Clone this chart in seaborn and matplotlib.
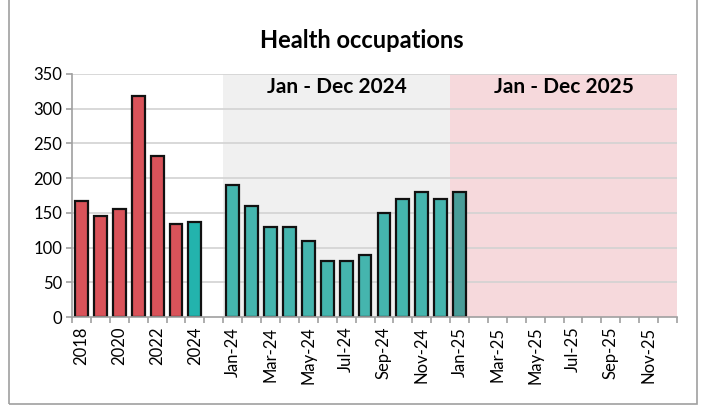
import numpy as np
import pandas as pd
import matplotlib
matplotlib.use('Agg')
import matplotlib.pyplot as plt
import seaborn as sns
from matplotlib.patches import Rectangle

# yearly totals, then monthly 2024 and 2025
years = ['2018', '2019', '2020', '2021', '2022', '2023', '2024']
year_values = [167, 146, 156, 318, 232, 134, 137]

months_24 = ['Jan-24', 'Feb-24', 'Mar-24', 'Apr-24', 'May-24', 'Jun-24',
             'Jul-24', 'Aug-24', 'Sep-24', 'Oct-24', 'Nov-24', 'Dec-24']
month_24_values = [190, 160, 130, 130, 110, 80, 80, 90, 150, 170, 180, 170]

months_25 = ['Jan-25', 'Feb-25', 'Mar-25', 'Apr-25', 'May-25', 'Jun-25',
             'Jul-25', 'Aug-25', 'Sep-25', 'Oct-25', 'Nov-25', 'Dec-25']
month_25_values = [180] + [np.nan] * 11

cats = years + [' '] + months_24 + months_25
vals = year_values + [np.nan] + month_24_values + month_25_values
df = pd.DataFrame({'cat': cats, 'value': vals})

red = '#d9535a'
teal_year = '#23b3ad'
teal = '#45b5ae'
teal_25 = '#4a9c98'
colors = {c: red for c in years[:-1]}
colors['2024'] = teal_year
colors[' '] = teal
for m in months_24:
    colors[m] = teal
for m in months_25:
    colors[m] = teal_25

sns.set_style('white')
plt.rcParams['font.family'] = ['Lato', 'DejaVu Sans']
plt.rcParams['text.color'] = 'black'
plt.rcParams['xtick.labelcolor'] = 'black'
plt.rcParams['ytick.labelcolor'] = 'black'

fig = plt.figure(figsize=(7.09, 4.09), dpi=100)
ax = fig.add_axes([72 / 709, 1 - 317 / 409, 605 / 709, 243 / 409])

# shaded periods
ax.axvspan(7.5, 19.5, color='#f0f0f0', zorder=0, lw=0)
ax.axvspan(19.5, 31.7, color='#f6d9dc', zorder=0, lw=0)

for y in range(50, 351, 50):
    ax.axhline(y, color='#d2d2d2', lw=1.2, zorder=0.5)

sns.barplot(data=df, x='cat', y='value', hue='cat', palette=colors, order=cats,
            legend=False, errorbar=None, width=0.68, edgecolor='#111111',
            linewidth=1.6, saturation=1, ax=ax, zorder=2)

ax.set_xlim(-0.5, 31.5)
ax.set_ylim(0, 350)
ax.set_yticks(range(0, 351, 50))
ax.set_xlabel('')
ax.set_ylabel('')

label_pos = list(range(0, len(cats), 2))
ax.set_xticks(label_pos)
ax.set_xticklabels([cats[i] for i in label_pos], rotation=90, fontsize=12)
ax.set_xticks(np.arange(-0.5, 32, 1), minor=True)
ax.tick_params(axis='x', which='major', length=0, pad=7, labelcolor='black')
ax.tick_params(axis='x', which='minor', length=4, color='#a0a0a0', width=1.2, bottom=True)
ax.tick_params(axis='y', length=4, color='#a0a0a0', width=1.2, left=True, labelsize=12,
               pad=3, labelcolor='black')

for s in ['top', 'right']:
    ax.spines[s].set_visible(False)
for s in ['left', 'bottom']:
    ax.spines[s].set_color('#a0a0a0')
    ax.spines[s].set_linewidth(1.2)

ax.text(13.5, 331, 'Jan - Dec 2024', ha='center', va='center',
        fontsize=15, fontweight='bold', color='black')
ax.text(25.5, 331, 'Jan - Dec 2025', ha='center', va='center',
        fontsize=15, fontweight='bold', color='black')

fig.text(362 / 709, 1 - 40 / 409, 'Health occupations', ha='center', va='center',
         fontsize=17, fontweight='bold', color='black')

fig.patches.append(Rectangle((9 / 709, 5 / 409), 688 / 709, 420 / 409,
                             transform=fig.transFigure, fill=False,
                             edgecolor='#a0a0a0', lw=1.2))

fig.savefig('out.png', dpi=100)
